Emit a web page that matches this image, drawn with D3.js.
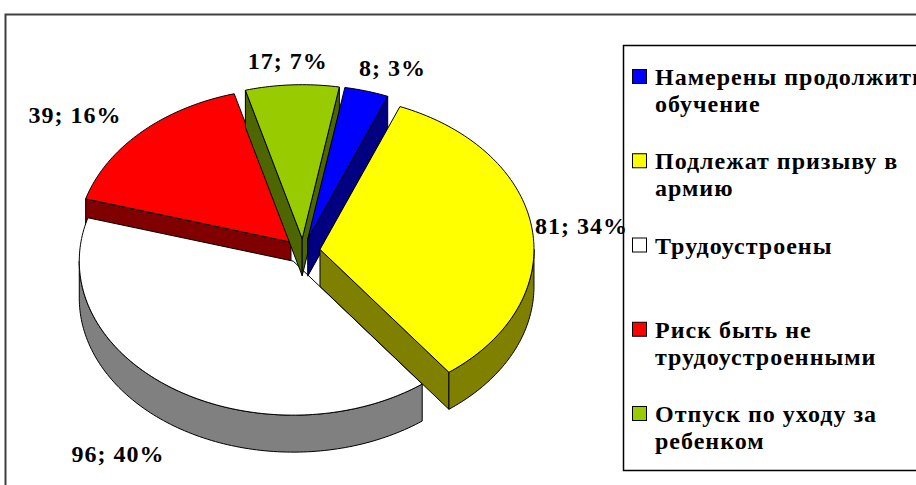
<!DOCTYPE html>
<meta charset="utf-8">
<style>
body {
  margin: 0;
  background: #fff;
  font-family: "Liberation Serif", "Times New Roman", serif;
}
html { overflow: hidden; }
svg text {
  font-weight: bold;
  fill: #000;
  letter-spacing: 1px;
}
text.label { font-size: 24px; text-anchor: middle; }
.legend text { font-size: 24px; }
path.face {
  stroke: #000;
  stroke-width: 1px;
  stroke-linejoin: round;
}
</style>
<body>
<script src="https://cdn.jsdelivr.net/npm/d3@7"></script>
<script>
var categories = [
  "Намерены продолжить\nобучение",
  "Подлежат призыву в\nармию",
  "Трудоустроены",
  "Риск быть не\nтрудоустроенными",
  "Отпуск по уходу за\nребенком"
];
var values = [8, 81, 96, 39, 17];
var topColors = ["#0000FF", "#FFFF00", "#FFFFFF", "#FF0000", "#99CC00"];
var sideColors = ["#000080", "#808000", "#808080", "#800000", "#4D6600"];

var W = 916, H = 485;
var cx = 303, cy = 251, rx = 214, ry = 154, depth = 37;
var explode = 0.08, firstAngle = 10 * Math.PI / 180;

var svg = d3.select("body").append("svg").attr("width", W).attr("height", H);

// chart area frame (cut by the picture edge)
svg.append("path")
  .attr("d", "M5.5," + (H + 5) + "V14.5H" + (W + 5))
  .attr("fill", "none")
  .attr("stroke", "#404040")
  .attr("stroke-width", 2);

var total = d3.sum(values);
var pie = d3.pie().sort(null)
  .startAngle(firstAngle)
  .endAngle(firstAngle + 2 * Math.PI);
var arcs = pie(values);

function pt(a, off, dz) {
  return [cx + off[0] + rx * Math.sin(a), cy + off[1] - ry * Math.cos(a) + dz];
}
function arcPts(a0, a1, off, dz) {
  var n = Math.max(2, Math.ceil((a1 - a0) / 0.02));
  return d3.range(n + 1).map(function(i) { return pt(a0 + (a1 - a0) * i / n, off, dz); });
}
var line = d3.line();

arcs.forEach(function(d) {
  d.mid = (d.startAngle + d.endAngle) / 2;
  d.off = [explode * rx * Math.sin(d.mid), -explode * ry * Math.cos(d.mid)];
});

// draw from left to right so the front slices cover the back ones
var order = arcs.slice().sort(function(a, b) { return Math.sin(a.mid) - Math.sin(b.mid); });

var pieG = svg.append("g");
order.forEach(function(d) {
  var g = pieG.append("g");
  var apex = [cx + d.off[0], cy + d.off[1]];
  var apexB = [apex[0], apex[1] + depth];
  var side = sideColors[d.index];

  // radial faces
  if (Math.sin(d.startAngle) < 0) {
    var p = pt(d.startAngle, d.off, 0), q = pt(d.startAngle, d.off, depth);
    g.append("path").attr("class", "face").attr("fill", side)
      .attr("d", line([apex, p, q, apexB]) + "Z");
  }
  if (Math.sin(d.endAngle) > 0) {
    var p2 = pt(d.endAngle, d.off, 0), q2 = pt(d.endAngle, d.off, depth);
    g.append("path").attr("class", "face").attr("fill", side)
      .attr("d", line([apex, p2, q2, apexB]) + "Z");
  }
  // outer wall (front half only)
  var w0 = Math.max(d.startAngle, Math.PI / 2), w1 = Math.min(d.endAngle, 3 * Math.PI / 2);
  if (w1 > w0) {
    var wall = arcPts(w0, w1, d.off, 0).concat(arcPts(w0, w1, d.off, depth).reverse());
    g.append("path").attr("class", "face").attr("fill", side)
      .attr("d", line(wall) + "Z");
  }
  // top face
  g.append("path").attr("class", "face").attr("fill", topColors[d.index])
    .attr("d", line([apex].concat(arcPts(d.startAngle, d.endAngle, d.off, 0))) + "Z");
});

// legend
var legend = svg.append("g").attr("class", "legend");
legend.append("rect")
  .attr("x", 623.5).attr("y", 45.5)
  .attr("width", 400).attr("height", 425)
  .attr("fill", "#fff").attr("stroke", "#000").attr("stroke-width", 1.5);

var rowY = d3.scaleLinear().domain([0, categories.length - 1]).range([85, 422]);

var items = legend.selectAll("g.item")
  .data(categories)
  .enter().append("g")
  .attr("class", "item")
  .attr("transform", function(d, i) { return "translate(0," + rowY(i) + ")"; });

items.append("rect")
  .attr("x", 632.5).attr("y", -15.5)
  .attr("width", 14).attr("height", 14)
  .attr("fill", function(d, i) { return topColors[i]; })
  .attr("stroke", "#000");

items.append("text")
  .attr("x", 655)
  .attr("y", 0)
  .each(function(d) {
    var el = d3.select(this);
    d.split("\n").forEach(function(s, j) {
      el.append("tspan").attr("x", 655).attr("dy", j ? 27 : 0).text(s);
    });
  });

// data labels (drawn last, they may run over the legend border)
var fx = 1.52, fy = 1.17, maxRight = 628;
arcs.forEach(function(d) {
  var pct = Math.round(d.value / total * 100);
  var t = svg.append("text").attr("class", "label")
    .text(d.value + "; " + pct + "%");
  var w = t.node().getComputedTextLength(), h = 20;
  var s = Math.sin(d.mid), c = Math.cos(d.mid);
  var x = Math.min(cx + fx * rx * s, maxRight - w / 2);
  var y = cy - fy * ry * c - h / 2 * c + (c < 0 ? depth * 1.25 : 0);
  t.attr("x", x).attr("y", y + 8);
});
</script>
</body>
